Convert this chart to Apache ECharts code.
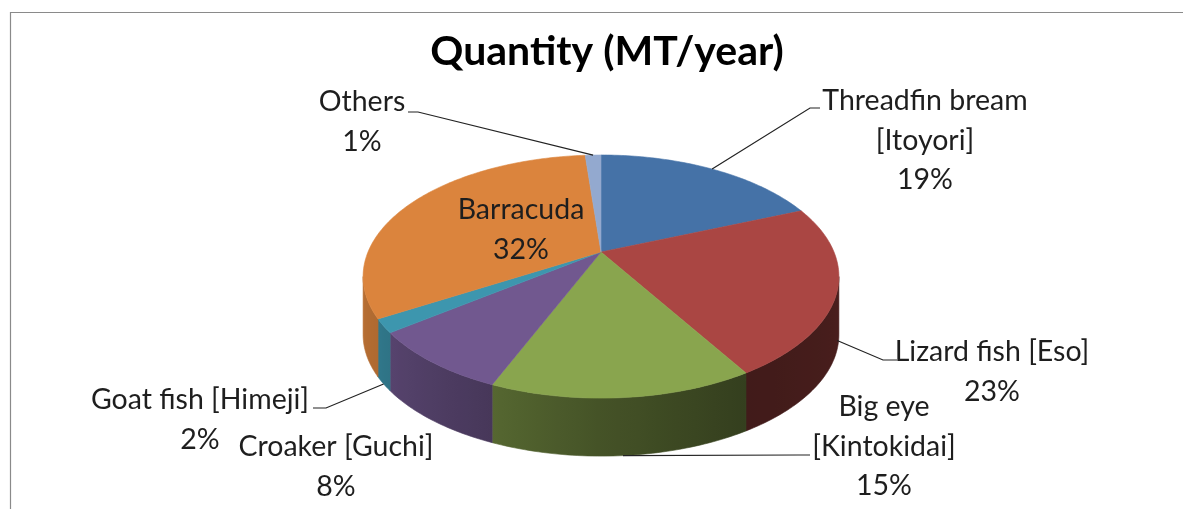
<!DOCTYPE html>
<html><head><meta charset="utf-8">
<script src="https://cdn.jsdelivr.net/npm/echarts@6/dist/echarts.min.js"></script>
<style>html,body{margin:0;padding:0;background:#fff}#c{width:1183px;height:509px}</style>
</head><body><div id="c"></div>
<script>
// ---- data ----
const titleText = 'Quantity (MT/year)';
const categories = ['Threadfin bream\n[Itoyori]', 'Lizard fish [Eso]', 'Big eye\n[Kintokidai]', 'Croaker [Guchi]', 'Goat fish [Himeji]', 'Barracuda', 'Others'];
const values = [18.8, 22.6, 14.8, 8.4, 1.8, 32.3, 1.3];
const colors = ['#4572A7', '#AA4643', '#89A54E', '#71588F', '#3D96AE', '#DB843D', '#93A9CF'];

// ---- layout (not data) ----
const geo = { cx: 601, cy: 252, sx: 233, sy: 116.6, k: 0.202, h: 58 };
const labelLayout = [
  { x: 925, y: 101, leader: [[820, 108], [810, 108]], attach: 0 },
  { x: 992, y: 352, leader: [[897, 360], [883, 360]], attach: 0.85 },
  { x: 884, y: 407, leader: [[810, 455], [798, 455]], attach: 1 },
  { x: 336, y: 447, leader: null },
  { x: 200, y: 400, leader: [[313, 408], [326, 408]], attach: 1 },
  { x: 521, y: 210, leader: null },
  { x: 362, y: 102, leader: [[408, 112], [418, 112]], attach: 0 }
];
const labelFont = '28.5px Lato';
const lineH = 39.5;
const shadeStops = [[90, 0.45], [150, 0.38], [180, 0.5], [205, 0.64], [240, 0.8], [270, 0.88]];

const total = values.reduce((a, b) => a + b, 0);
const starts = [];
values.reduce((acc, v, i) => { starts[i] = acc; return acc + v; }, 0);

function proj(theta, drop) {
  const u = Math.sin(theta), v = -Math.cos(theta);
  const w = 1 - geo.k * v;
  return [geo.cx + geo.sx * u / w, geo.cy + geo.sy * v / w + (drop || 0)];
}
function shadeFactor(deg) {
  if (deg <= shadeStops[0][0]) return shadeStops[0][1];
  for (let i = 1; i < shadeStops.length; i++) {
    if (deg <= shadeStops[i][0]) {
      const a = shadeStops[i - 1], b = shadeStops[i];
      return a[1] + (b[1] - a[1]) * (deg - a[0]) / (b[0] - a[0]);
    }
  }
  return shadeStops[shadeStops.length - 1][1];
}
function shade(hex, f) {
  const n = parseInt(hex.slice(1), 16);
  const r = Math.round(((n >> 16) & 255) * f), g = Math.round(((n >> 8) & 255) * f), b = Math.round((n & 255) * f);
  return 'rgb(' + r + ',' + g + ',' + b + ')';
}

function renderItem(params, api) {
  const i = params.dataIndex;
  const val = api.value(0);
  const a0 = starts[i] / total * 2 * Math.PI;
  const a1 = (starts[i] + val) / total * 2 * Math.PI;
  const col = colors[i];
  const children = [];
  // top face
  const pts = [[geo.cx, geo.cy]];
  const n = Math.max(2, Math.ceil((a1 - a0) / (Math.PI / 180)));
  for (let j = 0; j <= n; j++) pts.push(proj(a0 + (a1 - a0) * j / n));
  children.push({ type: 'polygon', z2: 10, shape: { points: pts }, style: { fill: col, stroke: col, lineWidth: 0.6 } });
  // side wall (front facing part), one polygon with a horizontal gradient
  const vis0 = Math.acos(-geo.k), vis1 = 2 * Math.PI - vis0;
  const w0 = Math.max(a0, vis0), w1 = Math.min(a1, vis1);
  if (w1 > w0) {
    const m = Math.max(2, Math.ceil((w1 - w0) / (Math.PI / 180)));
    const topPts = [], botPts = [], ts = [];
    for (let j = 0; j <= m; j++) {
      const t = w0 + (w1 - w0) * j / m;
      ts.push(t); topPts.push(proj(t)); botPts.push(proj(t, geo.h));
    }
    const xA = topPts[0][0], xB = topPts[m][0];
    const stops = [];
    for (let j = 0; j <= m; j += Math.max(1, Math.floor(m / 12))) {
      const off = Math.abs(xB - xA) < 0.5 ? 0 : (topPts[j][0] - xA) / (xB - xA);
      stops.push({ offset: Math.min(1, Math.max(0, off)), color: shade(col, shadeFactor(ts[j] * 180 / Math.PI)) });
    }
    stops.push({ offset: 1, color: shade(col, shadeFactor(ts[m] * 180 / Math.PI)) });
    const fill = { type: 'linear', x: xA, y: 0, x2: xB, y2: 0, global: true, colorStops: stops };
    const wallPts = topPts.concat(botPts.slice().reverse());
    children.push({ type: 'polygon', z2: 1, shape: { points: wallPts }, style: { fill: fill, stroke: fill, lineWidth: 0.6 } });
  }
  // label
  const L = labelLayout[i];
  const pct = Math.round(val / total * 100) + '%';
  children.push({ type: 'text', z2: 30, style: { text: categories[i] + '\n' + pct, x: L.x, y: L.y - lineH / 2, align: 'center', verticalAlign: 'top', lineHeight: lineH, font: labelFont, fill: '#1e1e1e' } });
  if (L.leader) {
    const mid = (a0 + a1) / 2;
    const ap = proj(mid, L.attach * geo.h);
    children.push({ type: 'polyline', z2: 25, shape: { points: L.leader.concat([ap]) }, style: { stroke: '#222', lineWidth: 1.2, fill: null } });
  }
  return { type: 'group', children: children };
}

const chart = echarts.init(document.getElementById('c'), null, { renderer: 'canvas' });
chart.setOption({
  animation: false,
  backgroundColor: '#fff',
  title: { text: titleText, left: 602, top: 26, textAlign: 'center', textStyle: { fontFamily: 'Lato', fontWeight: 'bold', fontSize: 41, color: '#000' } },
  graphic: [{ type: 'rect', shape: { x: 10.5, y: 12.5, width: 1400, height: 700 }, style: { fill: 'none', stroke: '#8a8a8a', lineWidth: 1.2 }, silent: true }],
  series: [{
    type: 'custom',
    coordinateSystem: 'none',
    renderItem: renderItem,
    data: values.map((v, i) => ({ name: categories[i], value: [v] }))
  }]
});
</script>
</body></html>
